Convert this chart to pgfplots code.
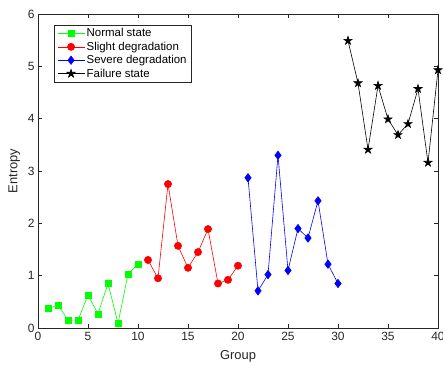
\documentclass[border=0pt]{standalone}
\usepackage{pgfplots}
\pgfplotsset{compat=1.18}
\usepackage{fontspec}
\setmainfont{Liberation Sans}
\definecolor{axgray}{rgb}{0.15,0.15,0.15}
\pgfdeclareplotmark{pentagram}{%
  \pgfpathmoveto{\pgfpointpolar{90}{\pgfplotmarksize}}%
  \pgfpathlineto{\pgfpointpolar{126}{0.382\pgfplotmarksize}}%
  \pgfpathlineto{\pgfpointpolar{162}{\pgfplotmarksize}}%
  \pgfpathlineto{\pgfpointpolar{198}{0.382\pgfplotmarksize}}%
  \pgfpathlineto{\pgfpointpolar{234}{\pgfplotmarksize}}%
  \pgfpathlineto{\pgfpointpolar{270}{0.382\pgfplotmarksize}}%
  \pgfpathlineto{\pgfpointpolar{306}{\pgfplotmarksize}}%
  \pgfpathlineto{\pgfpointpolar{342}{0.382\pgfplotmarksize}}%
  \pgfpathlineto{\pgfpointpolar{18}{\pgfplotmarksize}}%
  \pgfpathlineto{\pgfpointpolar{54}{0.382\pgfplotmarksize}}%
  \pgfpathclose
  \pgfusepathqfillstroke
}
\begin{document}
\begin{tikzpicture}
\begin{axis}[
  name=ax,
  scale only axis,
  width=400bp, height=314bp,
  xmin=0, xmax=40, ymin=0, ymax=6,
  xtick={0,5,...,40}, ytick={0,1,...,6},
  tick align=inside,
  major tick length=4bp,
  axis line style={axgray, line width=0.5pt},
  every tick/.style={axgray, line width=0.5pt},
  tick label style={font=\fontsize{12}{14}\selectfont, text=axgray},
  xticklabel style={yshift=-1bp},
  /pgf/number format/assume math mode=true,
  xlabel={Group}, ylabel={Entropy},
  label style={font=\fontsize{13}{15}\selectfont, text=axgray},
  xlabel style={yshift=-3bp},
  ylabel style={yshift=1bp},
  legend cell align=left,
  legend style={at={(0.04,0.965)}, anchor=north west, draw=axgray, line width=0.5pt,
    font=\fontsize{11.5}{13}\selectfont, row sep=0bp, inner xsep=3bp, inner ysep=1.5bp,
    nodes={inner sep=1.8bp}},
  legend image code/.code={\draw[mark repeat=2,mark phase=2] plot coordinates {(0bp,0bp)(13.5bp,0bp)(27bp,0bp)};},
]
\addplot[color={rgb,1:red,0;green,1;blue,0}, line width=0.6pt, mark=square*, mark size=3bp, mark options={solid}] coordinates {
(1,0.37)(2,0.44)(3,0.15)(4,0.15)(5,0.63)(6,0.27)(7,0.85)(8,0.09)(9,1.03)(10,1.22)};
\addlegendentry{Normal state}
\addplot[color=red, line width=0.6pt, mark=*, mark size=3.6bp] coordinates {
(11,1.30)(12,0.95)(13,2.75)(14,1.57)(15,1.15)(16,1.45)(17,1.89)(18,0.85)(19,0.92)(20,1.19)};
\addlegendentry{Slight degradation}
\addplot[color=blue, line width=0.6pt, mark=diamond*, mark size=4.2bp] coordinates {
(21,2.87)(22,0.71)(23,1.02)(24,3.30)(25,1.10)(26,1.90)(27,1.72)(28,2.43)(29,1.22)(30,0.85)};
\addlegendentry{Severe degradation}
\addplot[color=black, line width=0.6pt, mark=pentagram, mark size=4.3bp] coordinates {
(31,5.49)(32,4.68)(33,3.41)(34,4.63)(35,3.99)(36,3.69)(37,3.90)(38,4.57)(39,3.16)(40,4.93)};
\addlegendentry{Failure state}
\end{axis}
\pgfresetboundingbox
\path ([shift={(-38bp,-39bp)}]ax.south west) rectangle ([shift={(5bp,14bp)}]ax.north east);
\end{tikzpicture}
\end{document}
